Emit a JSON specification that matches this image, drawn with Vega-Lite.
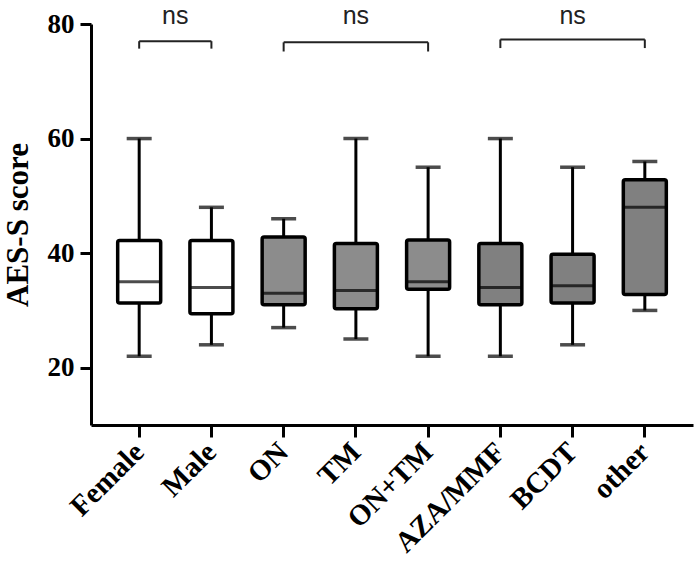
{
  "$schema": "https://vega.github.io/schema/vega-lite/v6.json",
  "autosize": {"type": "none"},
  "padding": {"left": 91, "top": 24, "right": 4, "bottom": 141},
  "width": 602,
  "height": 401,
  "config": {
    "view": {"stroke": null},
    "axis": {"grid": false, "domainColor": "black", "tickColor": "black", "labelColor": "black", "titleColor": "black"}
  },
  "datasets": {
    "boxes": [
      {"group": "Female", "min": 22, "q1": 31.3, "median": 35, "q3": 42.2, "max": 60, "pattern": "none"},
      {"group": "Male", "min": 24, "q1": 29.4, "median": 34, "q3": 42.2, "max": 48, "pattern": "none"},
      {"group": "ON", "min": 27, "q1": 31, "median": 33, "q3": 42.8, "max": 46, "pattern": "coarse"},
      {"group": "TM", "min": 25, "q1": 30.3, "median": 33.5, "q3": 41.7, "max": 60, "pattern": "coarse"},
      {"group": "ON+TM", "min": 22, "q1": 33.7, "median": 35, "q3": 42.3, "max": 55, "pattern": "coarse"},
      {"group": "AZA/MMF", "min": 22, "q1": 31, "median": 34, "q3": 41.7, "max": 60, "pattern": "fine"},
      {"group": "BCDT", "min": 24, "q1": 31.3, "median": 34.3, "q3": 39.8, "max": 55, "pattern": "fine"},
      {"group": "other", "min": 30, "q1": 32.8, "median": 48, "q3": 52.8, "max": 56, "pattern": "fine"}
    ],
    "brackets": [
      {"from": "Female", "to": "Male", "mid": "Female", "y": 77.0, "yend": 75.7, "label": "ns", "id": 1},
      {"from": "ON", "to": "ON+TM", "mid": "TM", "y": 76.8, "yend": 75.2, "label": "ns", "id": 2},
      {"from": "AZA/MMF", "to": "other", "mid": "BCDT", "y": 77.3, "yend": 75.8, "label": "ns", "id": 3}
    ]
  },
  "encoding": {
    "x": {
      "field": "group", "type": "nominal", "sort": null,
      "scale": {"domain": ["Female", "Male", "ON", "TM", "ON+TM", "AZA/MMF", "BCDT", "other"], "paddingInner": 0, "paddingOuter": 0.167},
      "axis": {
        "title": null, "labelAngle": -45, "labelAlign": "right", "labelBaseline": "middle",
        "labelFont": "Liberation Serif", "labelFontWeight": "bold", "labelFontSize": 29,
        "labelPadding": 10, "tickSize": 12, "tickWidth": 3, "domainWidth": 3
      }
    }
  },
  "layer": [
    {
      "data": {"name": "boxes"},
      "mark": {"type": "rule", "color": "black", "strokeWidth": 3},
      "encoding": {
        "y": {"field": "min", "type": "quantitative",
          "scale": {"domain": [10, 80], "nice": false, "zero": false},
          "axis": {
            "title": "AES-S score", "values": [20, 40, 60, 80],
            "titleFont": "Liberation Serif", "titleFontWeight": "bold", "titleFontSize": 31, "titlePadding": 13,
            "labelFont": "Liberation Serif", "labelFontWeight": "bold", "labelFontSize": 27, "labelPadding": 6,
            "tickSize": 11, "tickWidth": 3, "domainWidth": 3
          }
        },
        "y2": {"field": "max"}
      }
    },
    {
      "data": {"name": "boxes"},
      "mark": {"type": "bar", "size": 43, "stroke": "black", "strokeWidth": 3.5, "cornerRadius": 2},
      "encoding": {
        "y": {"field": "q1", "type": "quantitative"},
        "y2": {"field": "q3"},
        "fill": {"field": "pattern", "type": "nominal", "legend": null,
          "scale": {"domain": ["none", "coarse", "fine"], "range": ["#ffffff", "#8c8c8c", "#808080"]}}
      }
    },
    {
      "data": {"name": "boxes"},
      "mark": {"type": "tick", "color": "black", "size": 44, "thickness": 3},
      "encoding": {"y": {"field": "median", "type": "quantitative"}}
    },
    {
      "data": {"name": "boxes"},
      "mark": {"type": "tick", "color": "black", "size": 25, "thickness": 3.5},
      "encoding": {"y": {"field": "min", "type": "quantitative"}}
    },
    {
      "data": {"name": "boxes"},
      "mark": {"type": "tick", "color": "black", "size": 25, "thickness": 3.5},
      "encoding": {"y": {"field": "max", "type": "quantitative"}}
    },
    {
      "data": {"name": "brackets"},
      "mark": {"type": "rule", "color": "#222222", "strokeWidth": 2},
      "encoding": {
        "x": {"field": "from", "type": "nominal"},
        "x2": {"field": "to"},
        "y": {"field": "y", "type": "quantitative"}
      }
    },
    {
      "data": {"name": "brackets"},
      "mark": {"type": "rule", "color": "#222222", "strokeWidth": 2},
      "encoding": {
        "x": {"field": "from", "type": "nominal"},
        "y": {"field": "y", "type": "quantitative"},
        "y2": {"field": "yend"}
      }
    },
    {
      "data": {"name": "brackets"},
      "mark": {"type": "rule", "color": "#222222", "strokeWidth": 2},
      "encoding": {
        "x": {"field": "to", "type": "nominal"},
        "y": {"field": "y", "type": "quantitative"},
        "y2": {"field": "yend"}
      }
    },
    {
      "data": {"name": "brackets"},
      "transform": [{"filter": "datum.id != 1"}],
      "mark": {"type": "text", "font": "Liberation Sans", "fontSize": 25, "color": "#222222", "baseline": "alphabetic", "align": "center", "y": 0},
      "encoding": {
        "x": {"field": "mid", "type": "nominal"},
        "text": {"field": "label"}
      }
    },
    {
      "data": {"name": "brackets"},
      "transform": [{"filter": "datum.id == 1"}],
      "mark": {"type": "text", "font": "Liberation Sans", "fontSize": 25, "color": "#222222", "baseline": "alphabetic", "align": "center", "y": 0, "dx": 36},
      "encoding": {
        "x": {"field": "mid", "type": "nominal"},
        "text": {"field": "label"}
      }
    }
  ]
}
